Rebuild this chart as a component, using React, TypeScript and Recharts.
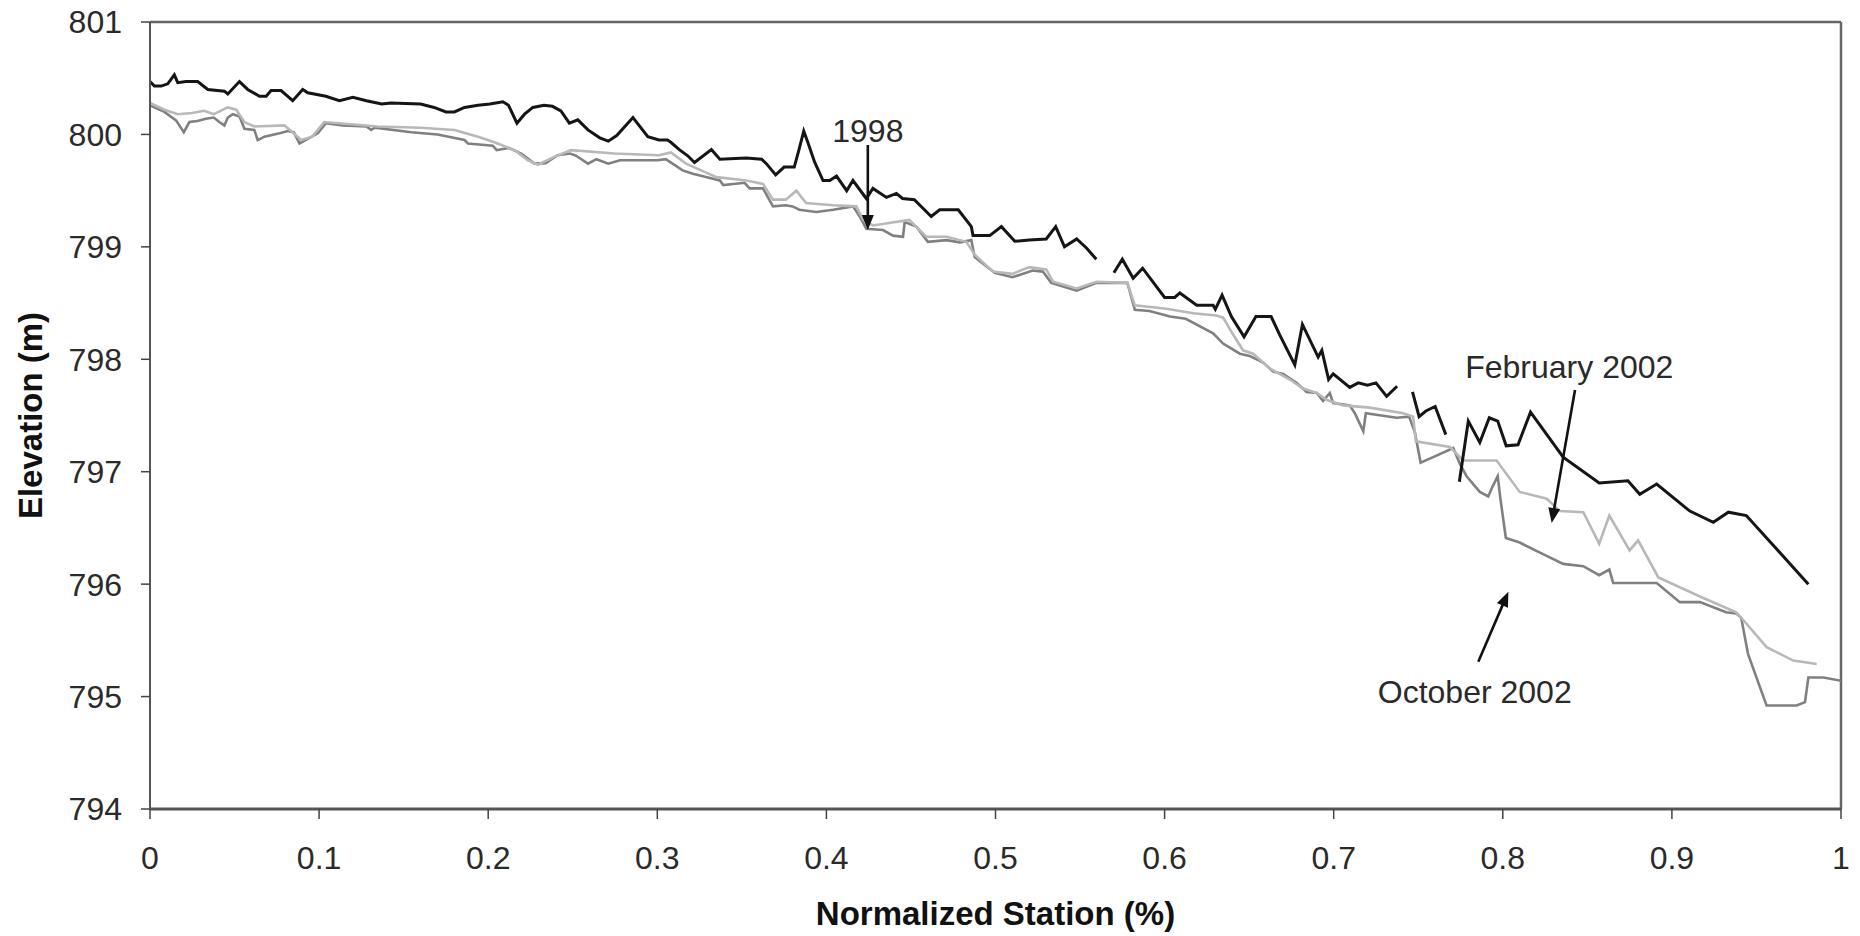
import React from 'react';
import { LineChart, Line, XAxis, YAxis, ReferenceLine, ReferenceDot, Label } from 'recharts';

// Normalized station ticks and elevation ticks
const xTicks = [0, 0.1, 0.2, 0.3, 0.4, 0.5, 0.6, 0.7, 0.8, 0.9, 1];
const yTicks = [794, 795, 796, 797, 798, 799, 800, 801];

// 1998 survey (null = gap in the profile)
const profile1998: [number, number | null][] = [
  [0, 800.47], [0.0026, 800.43], [0.0066, 800.43], [0.0105, 800.45], [0.0144, 800.53], [0.0164, 800.46],
  [0.0213, 800.47], [0.0282, 800.47], [0.0342, 800.4], [0.044, 800.385], [0.046, 800.36], [0.0529, 800.47],
  [0.0578, 800.4], [0.0647, 800.34], [0.0687, 800.34], [0.0716, 800.39], [0.0775, 800.39], [0.0844, 800.3],
  [0.0903, 800.4], [0.0933, 800.37], [0.104, 800.34], [0.112, 800.3], [0.12, 800.33], [0.128, 800.3],
  [0.137, 800.27], [0.1426, 800.28], [0.16, 800.27], [0.168, 800.24], [0.175, 800.2], [0.18, 800.2],
  [0.186, 800.24], [0.194, 800.26], [0.201, 800.27], [0.2087, 800.29], [0.212, 800.26], [0.217, 800.1],
  [0.2215, 800.18], [0.2264, 800.24], [0.233, 800.26], [0.238, 800.25], [0.243, 800.21], [0.248, 800.1],
  [0.253, 800.13], [0.259, 800.04], [0.266, 799.97], [0.271, 799.94], [0.276, 799.99], [0.2856, 800.15],
  [0.2944, 799.98], [0.301, 799.95], [0.306, 799.95], [0.308, 799.93], [0.313, 799.865], [0.318, 799.81],
  [0.322, 799.75], [0.332, 799.865], [0.337, 799.78], [0.3526, 799.79], [0.3617, 799.78], [0.3645, 799.74],
  [0.37, 799.64], [0.375, 799.71], [0.381, 799.71], [0.3838, 799.865], [0.3866, 800.03], [0.389, 799.93],
  [0.393, 799.755], [0.398, 799.59], [0.402, 799.59], [0.406, 799.63], [0.412, 799.5], [0.4157, 799.59],
  [0.4236, 799.43], [0.4275, 799.52], [0.4355, 799.44], [0.4414, 799.475], [0.445, 799.43], [0.452, 799.42],
  [0.462, 799.27], [0.467, 799.33], [0.478, 799.33], [0.4857, 799.18], [0.4867, 799.1], [0.4966, 799.1],
  [0.5035, 799.18], [0.5114, 799.05], [0.52, 799.06], [0.53, 799.07], [0.5356, 799.18], [0.5408, 799.0],
  [0.548, 799.07], [0.5538, 798.99], [0.5596, 798.89], [0.565, null],
  [0.57, 798.77], [0.575, 798.89], [0.5814, 798.72], [0.587, 798.81], [0.6, 798.55], [0.606, 798.55],
  [0.609, 798.59], [0.619, 798.48], [0.6287, 798.48], [0.63, 798.445], [0.634, 798.57], [0.6395, 798.38],
  [0.647, 798.2], [0.654, 798.38], [0.663, 798.38], [0.668, 798.22], [0.677, 797.95], [0.6815, 798.31],
  [0.6908, 798.02], [0.693, 798.08], [0.697, 797.82], [0.6997, 797.87], [0.7095, 797.75], [0.7145, 797.79],
  [0.72, 797.77], [0.725, 797.79], [0.7313, 797.67], [0.7375, 797.76], [0.742, null],
  [0.7466, 797.71], [0.7505, 797.49], [0.7545, 797.54], [0.76, 797.58], [0.7663, 797.33], [0.77, null],
  [0.7743, 796.91], [0.7796, 797.45], [0.7864, 797.26], [0.792, 797.48], [0.797, 797.45], [0.802, 797.23],
  [0.809, 797.24], [0.8164, 797.53], [0.8357, 797.13], [0.857, 796.9], [0.874, 796.92], [0.881, 796.8],
  [0.891, 796.89], [0.9106, 796.65], [0.9245, 796.55], [0.9334, 796.64], [0.944, 796.61], [0.9807, 796.0],
];

// February 2002 survey
const profileFeb2002: [number, number][] = [
  [0, 800.28], [0.0085, 800.22], [0.0164, 800.18], [0.025, 800.19], [0.032, 800.21], [0.0377, 800.18],
  [0.046, 800.24], [0.051, 800.22], [0.0558, 800.11], [0.0617, 800.07], [0.0795, 800.08], [0.0835, 800.03],
  [0.0894, 799.95], [0.096, 799.98], [0.103, 800.11], [0.1347, 800.07], [0.16, 800.06], [0.18, 800.04],
  [0.194, 799.98], [0.2037, 799.93], [0.2156, 799.86], [0.2235, 799.77], [0.2294, 799.73], [0.239, 799.8],
  [0.249, 799.86], [0.2747, 799.83], [0.301, 799.815], [0.308, 799.84], [0.317, 799.74], [0.335, 799.62],
  [0.3527, 799.59], [0.3625, 799.56], [0.3684, 799.42], [0.376, 799.42], [0.3822, 799.5], [0.388, 799.39],
  [0.404, 799.37], [0.4177, 799.36], [0.4217, 799.24], [0.4275, 799.19], [0.449, 799.24], [0.459, 799.09],
  [0.471, 799.09], [0.4828, 799.045], [0.4877, 798.93], [0.4985, 798.78], [0.51, 798.76], [0.52, 798.82],
  [0.53, 798.8], [0.534, 798.69], [0.548, 798.63], [0.5597, 798.69], [0.578, 798.68], [0.5824, 798.48],
  [0.601, 798.45], [0.617, 798.41], [0.6307, 798.39], [0.6346, 798.37], [0.6405, 798.22], [0.6464, 798.08],
  [0.6523, 798.05], [0.6622, 797.92], [0.674, 797.82], [0.6819, 797.74], [0.69, 797.7], [0.6957, 797.64],
  [0.7056, 797.59], [0.7214, 797.57], [0.741, 797.52], [0.747, 797.49], [0.7486, 797.27], [0.7687, 797.22],
  [0.7766, 797.1], [0.7963, 797.1], [0.81, 796.82], [0.826, 796.76], [0.8337, 796.65], [0.8476, 796.64],
  [0.857, 796.36], [0.863, 796.61], [0.875, 796.3], [0.88, 796.39], [0.892, 796.06], [0.9166, 795.89],
  [0.938, 795.75], [0.944, 795.65], [0.956, 795.44], [0.9718, 795.32], [0.9856, 795.29],
];

// October 2002 survey
const profileOct2002: [number, number][] = [
  [0, 800.26], [0.0085, 800.2], [0.0154, 800.125], [0.02, 800.02], [0.0233, 800.11], [0.028, 800.12],
  [0.033, 800.14], [0.0377, 800.15], [0.041, 800.11], [0.044, 800.08], [0.046, 800.15], [0.049, 800.18],
  [0.053, 800.16], [0.0558, 800.05], [0.0617, 800.04], [0.0637, 799.95], [0.0677, 799.98], [0.0766, 800.01],
  [0.0815, 800.03], [0.085, 800.02], [0.0884, 799.92], [0.0933, 799.96], [0.0992, 800.01], [0.104, 800.1],
  [0.114, 800.08], [0.128, 800.07], [0.1308, 800.04], [0.133, 800.06], [0.1545, 800.02], [0.17, 800.0],
  [0.186, 799.95], [0.188, 799.92], [0.2027, 799.9], [0.205, 799.86], [0.212, 799.88], [0.2195, 799.83],
  [0.2274, 799.74], [0.234, 799.745], [0.241, 799.815], [0.2485, 799.83], [0.252, 799.81], [0.259, 799.74],
  [0.264, 799.78], [0.271, 799.74], [0.278, 799.77], [0.3, 799.77], [0.305, 799.78], [0.315, 799.68],
  [0.321, 799.65], [0.337, 799.59], [0.339, 799.55], [0.3516, 799.57], [0.3546, 799.52], [0.3625, 799.52],
  [0.3684, 799.36], [0.376, 799.37], [0.38, 799.36], [0.384, 799.33], [0.394, 799.31], [0.404, 799.33],
  [0.4157, 799.36], [0.4197, 799.27], [0.4236, 799.16], [0.4335, 799.15], [0.4394, 799.1], [0.4453, 799.09],
  [0.4463, 799.22], [0.4532, 799.18], [0.46, 799.045], [0.471, 799.06], [0.479, 799.04], [0.4857, 799.06],
  [0.4877, 798.91], [0.4995, 798.77], [0.51, 798.73], [0.522, 798.79], [0.528, 798.78], [0.533, 798.68],
  [0.548, 798.61], [0.5597, 798.68], [0.578, 798.68], [0.5824, 798.44], [0.591, 798.43], [0.6032, 798.38],
  [0.6125, 798.36], [0.6287, 798.23], [0.6346, 798.14], [0.6445, 798.05], [0.6503, 798.03], [0.6583, 797.97],
  [0.6642, 797.89], [0.6701, 797.87], [0.678, 797.79], [0.684, 797.71], [0.69, 797.7], [0.6937, 797.63],
  [0.6977, 797.7], [0.6997, 797.61], [0.7095, 797.59], [0.7125, 797.52], [0.7175, 797.36], [0.719, 797.52],
  [0.7372, 797.48], [0.7446, 797.49], [0.748, 797.35], [0.7514, 797.08], [0.7588, 797.13], [0.7707, 797.21],
  [0.7746, 797.07], [0.7786, 796.96], [0.7864, 796.82], [0.7914, 796.78], [0.794, 796.87], [0.797, 796.96],
  [0.7985, 796.77], [0.8018, 796.41], [0.81, 796.37], [0.822, 796.28], [0.8357, 796.18], [0.8476, 796.16],
  [0.857, 796.08], [0.863, 796.13], [0.8653, 796.01], [0.891, 796.01], [0.9047, 795.84], [0.9166, 795.84],
  [0.932, 795.75], [0.938, 795.74], [0.941, 795.7], [0.945, 795.38], [0.956, 794.92], [0.9738, 794.92],
  [0.9787, 794.95], [0.9807, 795.17], [0.9896, 795.17], [1.0, 795.14],
];

// Annotation texts (anchor point in data units, text baseline)
const annotationTexts = [
  { text: '1998', s: 0.4245, v: 799.935 },
  { text: 'February 2002', s: 0.8393, v: 797.831 },
  { text: 'October 2002', s: 0.7834, v: 794.945 },
];

// Annotation arrows (tail -> head, data units)
const annotationArrows = [
  { from: [0.4245, 799.906], to: [0.4245, 799.15] },
  { from: [0.8427, 797.727], to: [0.8289, 796.544] },
  { from: [0.7855, 795.31], to: [0.8033, 795.933] },
];

const FONT = '"Liberation Sans", Arial, Helvetica, sans-serif';
const TEXT_COLOR = '#2a2a2a';

const toRows = (pts: [number, number | null][]) => pts.map(([s, v]) => ({ s, v }));

const ArrowShape = (p: any) => {
  const { x1, y1, x2, y2 } = p;
  if ([x1, y1, x2, y2].some((n) => typeof n !== 'number' || isNaN(n))) return null;
  const dx = x2 - x1;
  const dy = y2 - y1;
  const len = Math.hypot(dx, dy) || 1;
  const ux = dx / len;
  const uy = dy / len;
  const hl = 15;
  const hw = 6;
  const bx = x2 - ux * hl;
  const by = y2 - uy * hl;
  const px = -uy * hw;
  const py = ux * hw;
  return (
    <g>
      <line x1={x1} y1={y1} x2={bx + ux * 2} y2={by + uy * 2} stroke="#111" strokeWidth={2.6} />
      <polygon points={`${x2},${y2} ${bx + px},${by + py} ${bx - px},${by - py}`} fill="#111" />
    </g>
  );
};

const makeTextShape = (text: string) => (p: any) => {
  if (typeof p.cx !== 'number' || isNaN(p.cx)) return null;
  return (
    <text x={p.cx} y={p.cy} textAnchor="middle" fontFamily={FONT} fontSize={32} fill={TEXT_COLOR}>
      {text}
    </text>
  );
};

const YTitle = (props: any) => {
  const vb = props.viewBox || { x: 0, y: 0, width: 0, height: 0 };
  const cx = vb.x + 30;
  const cy = vb.y + vb.height / 2;
  return (
    <text
      x={cx}
      y={cy}
      transform={`rotate(-90 ${cx} ${cy})`}
      textAnchor="middle"
      dominantBaseline="central"
      fontFamily={FONT}
      fontWeight="bold"
      fontSize={33}
      fill="#111"
    >
      Elevation (m)
    </text>
  );
};

const XTitle = (props: any) => {
  const vb = props.viewBox || { x: 0, y: 0, width: 0, height: 0 };
  const cx = vb.x + vb.width / 2;
  const cy = vb.y + 116;
  return (
    <text x={cx} y={cy} textAnchor="middle" fontFamily={FONT} fontWeight="bold" fontSize={33} fill="#111">
      Normalized Station (%)
    </text>
  );
};

export default function App() {
  const tickStyle = { fontFamily: FONT, fontSize: 32, fill: TEXT_COLOR };
  return (
    <div style={{ position: 'absolute', left: 0, top: 0, width: 1860, height: 936, background: '#fff' }}>
      <LineChart width={1860} height={936} margin={{ top: 22, right: 19, bottom: 0, left: 0 }}>
        <XAxis
          type="number"
          dataKey="s"
          domain={[0, 1]}
          ticks={xTicks}
          allowDataOverflow
          height={127}
          tickSize={10}
          tickMargin={27}
          tick={tickStyle}
          axisLine={{ stroke: '#555', strokeWidth: 3 }}
          tickLine={{ stroke: '#444', strokeWidth: 1.5 }}
          interval={0}
        >
          <Label content={XTitle} />
        </XAxis>
        <YAxis
          type="number"
          domain={[794, 801]}
          ticks={yTicks}
          allowDataOverflow
          width={150}
          tickSize={9}
          tickMargin={19}
          tick={tickStyle}
          axisLine={{ stroke: '#555', strokeWidth: 2 }}
          tickLine={{ stroke: '#444', strokeWidth: 1.5 }}
          interval={0}
        >
          <Label content={YTitle} />
        </YAxis>
        <ReferenceLine y={801} stroke="#666" strokeWidth={2.5} />
        <ReferenceLine x={1} stroke="#666" strokeWidth={2.5} />
        <Line
          data={toRows(profileOct2002)}
          dataKey="v"
          type="linear"
          stroke="#808080"
          strokeWidth={2.6}
          dot={false}
          activeDot={false}
          isAnimationActive={false}
        />
        <Line
          data={toRows(profileFeb2002)}
          dataKey="v"
          type="linear"
          stroke="#b8b8b8"
          strokeWidth={2.6}
          dot={false}
          activeDot={false}
          isAnimationActive={false}
        />
        <Line
          data={toRows(profile1998)}
          dataKey="v"
          type="linear"
          stroke="#151515"
          strokeWidth={3}
          dot={false}
          activeDot={false}
          connectNulls={false}
          isAnimationActive={false}
        />
        {annotationArrows.map((a, i) => (
          <ReferenceLine
            key={`arrow-${i}`}
            segment={[
              { x: a.from[0], y: a.from[1] },
              { x: a.to[0], y: a.to[1] },
            ]}
            shape={ArrowShape}
          />
        ))}
        {annotationTexts.map((a, i) => (
          <ReferenceDot key={`txt-${i}`} x={a.s} y={a.v} r={0} shape={makeTextShape(a.text)} />
        ))}
      </LineChart>
    </div>
  );
}
